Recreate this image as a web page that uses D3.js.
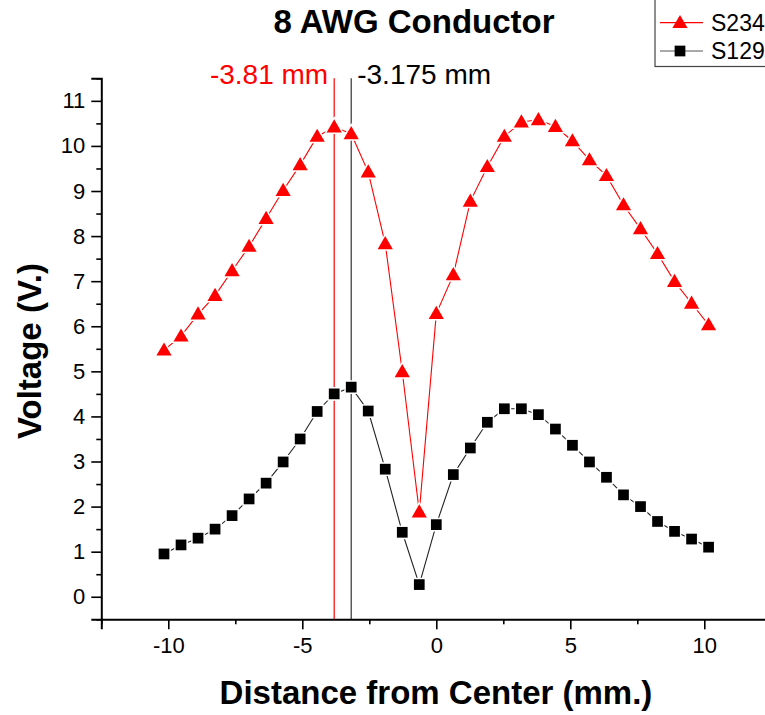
<!DOCTYPE html>
<html>
<head>
<meta charset="utf-8">
<script src="https://cdn.jsdelivr.net/npm/d3@7/dist/d3.min.js"></script>
<style>
  html, body { margin: 0; padding: 0; background: #fff; }
  svg { display: block; font-family: "Liberation Sans", Arial, sans-serif; }
</style>
</head>
<body>
<svg id="chart" width="765" height="715"></svg>
<script>
// Probe positions (mm from conductor centre)
const positions = [-10.16, -9.525, -8.89, -8.255, -7.62, -6.985, -6.35, -5.715, -5.08, -4.445,
  -3.81, -3.175, -2.54, -1.905, -1.27, -0.635, 0, 0.635, 1.27, 1.905, 2.54, 3.175, 3.81,
  4.445, 5.08, 5.715, 6.35, 6.985, 7.62, 8.255, 8.89, 9.525, 10.16];
// Measured voltages (V)
const s234 = [5.47, 5.78, 6.27, 6.68, 7.23, 7.77, 8.39, 9.01, 9.58, 10.21, 10.42, 10.27, 9.42,
  7.83, 4.99, 1.88, 6.28, 7.14, 8.77, 9.54, 10.21, 10.53, 10.58, 10.43, 10.11, 9.69, 9.34,
  8.69, 8.16, 7.61, 6.99, 6.51, 6.03];
const s129 = [0.95, 1.15, 1.30, 1.50, 1.80, 2.17, 2.52, 2.99, 3.50, 4.11, 4.50, 4.65, 4.12,
  2.83, 1.43, 0.27, 1.60, 2.71, 3.30, 3.87, 4.17, 4.17, 4.04, 3.72, 3.36, 2.99, 2.65, 2.26,
  2.00, 1.67, 1.45, 1.28, 1.10];
const seriesNames = ["S234", "S129"];
const xTicks = [-10, -5, 0, 5, 10];
const yTicks = [0, 1, 2, 3, 4, 5, 6, 7, 8, 9, 10, 11];
const markerLines = [-3.81, -3.175];
const markerLabels = ["-3.81 mm", "-3.175 mm"];

const svg = d3.select("#chart");
const x = d3.scaleLinear().domain([-12.5, 12.5]).range([101.3, 771.3]);
const y = d3.scaleLinear().domain([-0.5, 11.5]).range([619.3, 78.3]);

const RED = "#ff0000", BLACK = "#000000";

// Reference lines at the two peak positions
const refColors = [RED, "#333333"];
markerLines.forEach((v, i) => {
  svg.append("line")
    .attr("x1", x(v)).attr("x2", x(v))
    .attr("y1", y(11.5)).attr("y2", y(-0.5))
    .attr("stroke", refColors[i]).attr("stroke-width", 1.2);
});
svg.append("text").attr("x", x(markerLines[0]) - 6).attr("y", 84)
  .attr("text-anchor", "end").attr("font-size", 28).attr("fill", RED).text(markerLabels[0]);
svg.append("text").attr("x", x(markerLines[1]) + 6).attr("y", 84)
  .attr("text-anchor", "start").attr("font-size", 28).attr("fill", BLACK).text(markerLabels[1]);

// Axes
const fmt = d => String(d);
const xAxis = d3.axisBottom(x).tickValues(xTicks).tickSize(10).tickPadding(8).tickFormat(fmt);
const yAxis = d3.axisLeft(y).tickValues(yTicks).tickSize(10).tickPadding(6).tickFormat(fmt);
const gx = svg.append("g").attr("transform", `translate(0,${y(-0.5)})`).call(xAxis);
const gy = svg.append("g").attr("transform", `translate(${x(-12.5)},0)`).call(yAxis);
[gx, gy].forEach(g => {
  g.select(".domain").attr("stroke", BLACK).attr("stroke-width", 2);
  g.selectAll(".tick line").attr("stroke", BLACK).attr("stroke-width", 1.6);
  g.selectAll(".tick text").attr("font-size", 22).attr("fill", BLACK)
    .attr("font-family", "Liberation Sans, Arial, sans-serif");
});
// Minor ticks
const xMinor = d3.axisBottom(x).tickValues([-12.5, -7.5, -2.5, 2.5, 7.5, 12.5]).tickSize(5).tickFormat("");
const yMinor = d3.axisLeft(y).tickValues(d3.range(0, 12).map(v => v - 0.5).concat([11.5])).tickSize(5).tickFormat("");
svg.append("g").attr("transform", `translate(0,${y(-0.5)})`).call(xMinor)
  .call(g => g.select(".domain").remove())
  .selectAll("line").attr("stroke", BLACK).attr("stroke-width", 1.6);
svg.append("g").attr("transform", `translate(${x(-12.5)},0)`).call(yMinor)
  .call(g => g.select(".domain").remove())
  .selectAll("line").attr("stroke", BLACK).attr("stroke-width", 1.6);

// Series lines
const line = d3.line().x(d => x(d[0])).y(d => y(d[1]));
const series = [
  { name: seriesNames[0], values: s234, color: RED, shape: d3.symbolTriangle, size: 100 },
  { name: seriesNames[1], values: s129, color: BLACK, shape: d3.symbolSquare, size: 115 }
];
series.forEach(s => {
  const pts = positions.map((p, i) => [p, s.values[i]]);
  svg.append("path").datum(pts).attr("d", line)
    .attr("fill", "none").attr("stroke", s.color === RED ? RED : "#222").attr("stroke-width", 1.1);
});
series.forEach(s => {
  const pts = positions.map((p, i) => [p, s.values[i]]);
  const sym = d3.symbol().type(s.shape).size(s.size);
  svg.append("g").selectAll("path").data(pts).join("path")
    .attr("d", sym)
    .attr("transform", d => `translate(${x(d[0])},${y(d[1]) + (s.shape === d3.symbolTriangle ? 1 : 0)})`)
    .attr("fill", s.color)
    .attr("stroke", "#fff").attr("stroke-width", 3).attr("paint-order", "stroke");
});

// Title
svg.append("text").attr("x", 414).attr("y", 33).attr("text-anchor", "middle")
  .attr("font-size", 33).attr("font-weight", "bold").text("8 AWG Conductor");

// Axis titles
svg.append("text").attr("x", 436).attr("y", 704).attr("text-anchor", "middle")
  .attr("font-size", 33).attr("font-weight", "bold").text("Distance from Center (mm.)");
svg.append("text").attr("transform", "translate(41,351) rotate(-90)").attr("text-anchor", "middle")
  .attr("font-size", 33).attr("font-weight", "bold").text("Voltage (V.)");

// Legend
const lg = svg.append("g");
lg.append("rect").attr("x", 655).attr("y", -2).attr("width", 120).attr("height", 68.5)
  .attr("fill", "#fff").attr("stroke", "#444").attr("stroke-width", 1.2);
series.forEach((s, i) => {
  const cy = 22.7 + i * 28.3;
  lg.append("line").attr("x1", 660).attr("x2", 703).attr("y1", cy).attr("y2", cy)
    .attr("stroke", s.color === RED ? RED : "#555").attr("stroke-width", 1.2);
  lg.append("path").attr("d", d3.symbol().type(s.shape).size(s.size)())
    .attr("transform", `translate(680,${cy + (s.shape === d3.symbolTriangle ? 1 : 0)})`)
    .attr("fill", s.color);
  lg.append("text").attr("x", 711).attr("y", cy + 8).attr("font-size", 23).text(s.name);
});
</script>
</body>
</html>
